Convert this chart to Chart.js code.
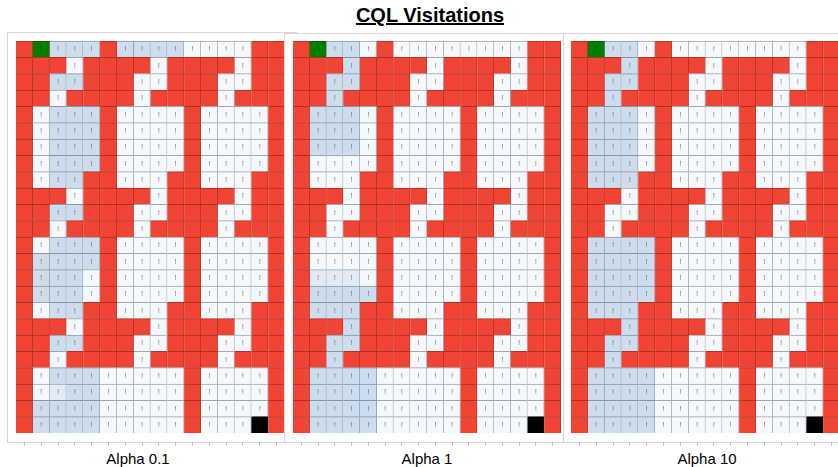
<!DOCTYPE html>
<html>
<head>
<meta charset="utf-8">
<script src="https://cdn.jsdelivr.net/npm/chart.js@4.4.1/dist/chart.umd.min.js"></script>
<style>
  body { margin: 0; background: #fff; }
  #wrap { position: relative; width: 838px; height: 467px; overflow: hidden; background: #fff; }
  .title { position: absolute; left: 0; width: 860px; top: 4px; text-align: center;
    font: bold 20px "Liberation Sans", Arial, sans-serif; text-decoration: underline; color: #000; }
  .frame { position: absolute; background: #fff; border: 1px solid #d6d6d6; box-sizing: border-box; }
  .plot { position: absolute; }
  .label { position: absolute; width: 160px; text-align: center; top: 450px;
    font: 15px "Liberation Sans", Arial, sans-serif; color: #000; }
</style>
</head>
<body>
<div id="wrap">
  <div class="title">CQL Visitations</div>

  <div class="frame" style="left:7px;top:32px;width:290px;height:411px;z-index:1"></div>
  <div class="plot" style="left:16px;top:33px;width:269px;height:413px;z-index:2"><canvas id="c1"></canvas></div>

  <div class="frame" style="left:284px;top:33px;width:280px;height:410px;z-index:3"></div>
  <div class="plot" style="left:293px;top:33px;width:268px;height:413px;z-index:4"><canvas id="c2"></canvas></div>

  <div class="frame" style="left:563px;top:33px;width:290px;height:410px;z-index:5"></div>
  <div class="plot" style="left:571px;top:33px;width:269px;height:413px;z-index:6"><canvas id="c3"></canvas></div>

  <div class="label" style="left:58px">Alpha 0.1</div>
  <div class="label" style="left:347px">Alpha 1</div>
  <div class="label" style="left:627px">Alpha 10</div>
</div>

<script>
// Grid columns (16) and cell codes per row, top row first
// R = wall, G = start, K = goal, L = visited, l = lightly visited, W = not visited
const columns = ['0','1','2','3','4','5','6','7','8','9','10','11','12','13','14','15'];

const alpha01Rows = [
  "RGLLLRLLLLWWWWRR",
  "RRRWRRRRWRRRRWRR",
  "RRLLRRRWWRRRWWRR",
  "RRWRRRRWRRRRWRRR",
  "RWLLLRWWWWRWWWWR",
  "RWLLLRWWWWRWWWWR",
  "RWLLLRWWWWRWWWWR",
  "RWLLLRWWWWRWWWWR",
  "RWLLRRWWWRRWWWRR",
  "RRRWRRRRWRRRRWRR",
  "RRLLRRRWWRRRWWRR",
  "RRWRRRRWRRRRWRRR",
  "RWLLLRWWWWRWWWWR",
  "RLLLLRWWWWRWWWWR",
  "RLLLWRWWWWRWWWWR",
  "RLLLWRWWWWRWWWWR",
  "RWLLRRWWWRRWWWRR",
  "RRRWRRRRWRRRRWRR",
  "RRLLRRRWWRRRWWRR",
  "RRWRRRRWRRRRWRRR",
  "RWLLLWWWWWRWWWWR",
  "RWlLLWWWWWRWWWWR",
  "RLLLLWWWWWRWWWWR",
  "RLLLLWWWWWRWWWKR"
];

const alpha1Rows = [
  "RGLLWRWWWWWWWWRR",
  "RRRLRRRRWRRRRWRR",
  "RRLLRRRWWRRRWWRR",
  "RRLRRRRWRRRRWRRR",
  "RLLLWRWWWWRWWWWR",
  "RLLLWRWWWWRWWWWR",
  "RLLLWRWWWWRWWWWR",
  "RWWWWRWWWWRWWWWR",
  "RWWWRRWWWRRWWWRR",
  "RRRWRRRRWRRRRWRR",
  "RRWWRRRWWRRRWWRR",
  "RRWRRRRWRRRRWRRR",
  "RWWWWRWWWWRWWWWR",
  "RWWWWRWWWWRWWWWR",
  "RlllWRWWWWRWWWWR",
  "RLLLLRWWWWRWWWWR",
  "RLLLRRWWWRRWWWRR",
  "RRRLRRRRWRRRRWRR",
  "RRLLRRRWWRRRWWRR",
  "RRLRRRRWRRRRWRRR",
  "RLLLLWWWWWRWWWWR",
  "RLLLLWWWWWRWWWWR",
  "RLLLLWWWWWRWWWWR",
  "RLLLLWWWWWRWWWKR"
];

const alpha10Rows = [
  "RGLLWRWWWWWWWWRR",
  "RRRLRRRRWRRRRWRR",
  "RRLLRRRWWRRRWWRR",
  "RRLRRRRWRRRRWRRR",
  "RLLLWRWWWWRWWWWR",
  "RLLLWRWWWWRWWWWR",
  "RLLLWRWWWWRWWWWR",
  "RLLLWRWWWWRWWWWR",
  "RLLLRRWWWRRWWWRR",
  "RRRWRRRRWRRRRWRR",
  "RRWWRRRWWRRRWWRR",
  "RRWRRRRWRRRRWRRR",
  "RLLLLRWWWWRWWWWR",
  "RLLLLRWWWWRWWWWR",
  "RLLLLRWWWWRWWWWR",
  "RLLLLRWWWWRWWWWR",
  "RLLLRRWWWRRWWWRR",
  "RRRLRRRRWRRRRWRR",
  "RRLLRRRWWRRRWWRR",
  "RRLRRRRWRRRRWRRR",
  "RLLLLWWWWWRWWWWR",
  "RLLLLWWWWWRWWWWR",
  "RLLLLWWWWWRWWWWR",
  "RLLLLWWWWWRWWWKR"
];

const fillColors = { R: '#f04434', G: '#008000', K: '#000000', L: '#cedded', l: '#e2ebf5', W: '#f5f9fd' };
const lineColors = { R: '#ad3127', G: '#0b4f0b', K: '#000000', L: '#8797a8', l: '#9ea9b5', W: '#a2a7ad' };

// draws the small "!" marks inside the open cells
const markPlugin = {
  id: 'marks',
  afterDatasetsDraw(chart) {
    const ctx = chart.ctx;
    ctx.save();
    ctx.font = '8px "Liberation Sans", Arial, sans-serif';
    ctx.textAlign = 'center';
    ctx.textBaseline = 'middle';
    chart.data.datasets.forEach((ds, i) => {
      chart.getDatasetMeta(i).data.forEach((bar, j) => {
        const code = ds.codes[j];
        if (code === 'R' || code === 'K') return;
        ctx.fillStyle = code === 'G' ? 'rgba(0,40,0,0.7)' : 'rgba(90,90,90,0.75)';
        ctx.fillText('!', bar.x, (bar.y + bar.base) / 2);
      });
    });
    ctx.restore();
  }
};

function makeGrid(id, rows) {
  // bottom row first for stacking
  const datasets = rows.slice().reverse().map(row => {
    const codes = row.split('');
    return {
      codes: codes,
      data: codes.map(() => 1),
      backgroundColor: codes.map(c => fillColors[c]),
      borderColor: codes.map(c => lineColors[c]),
      borderWidth: { top: 1, right: 1, bottom: 0, left: 0 },
      borderSkipped: false,
      barPercentage: 1,
      categoryPercentage: 1
    };
  });

  new Chart(document.getElementById(id), {
    type: 'bar',
    data: { labels: columns, datasets: datasets },
    options: {
      responsive: true,
      maintainAspectRatio: false,
      animation: false,
      layout: { padding: { top: 8, left: 0, right: 0, bottom: 0 } },
      plugins: { legend: { display: false }, tooltip: { enabled: false } },
      scales: {
        x: {
          stacked: true,
          border: { display: false },
          grid: { offset: false, drawOnChartArea: false, drawTicks: true, tickLength: 4, tickColor: '#c4c4c4' },
          ticks: { display: false }
        },
        y: {
          stacked: true,
          display: false,
          min: -0.55,
          max: rows.length
        }
      }
    },
    plugins: [markPlugin]
  });
}

makeGrid('c1', alpha01Rows);
makeGrid('c2', alpha1Rows);
makeGrid('c3', alpha10Rows);
</script>
</body>
</html>
